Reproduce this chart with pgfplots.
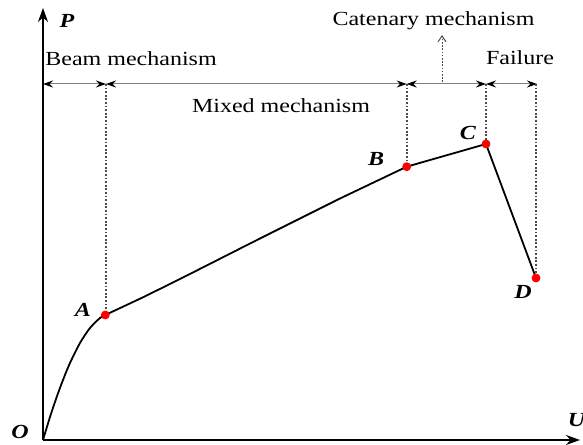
\documentclass[border=0pt]{standalone}
\usepackage{pgfplots}
\pgfplotsset{compat=1.18}
\usepackage{fontspec}
\setmainfont{Liberation Serif}[FakeStretch=1.2]
\usetikzlibrary{arrows.meta}
\begin{document}
\begin{tikzpicture}
\fontsize{10}{12}\selectfont
\begin{axis}[
  width=291.5pt, height=222.5pt, scale only axis,
  xmin=-43, xmax=540, ymin=-5, ymax=440,
  hide axis, clip=false,
  every node/.style={font=\fontsize{10}{12}\selectfont},
]
% axes
\addplot[black, line width=0.8pt, -{Stealth[length=7pt,width=5pt]}] coordinates {(0,0) (0,432)};
\addplot[black, line width=0.8pt, -{Stealth[length=7pt,width=5pt]}] coordinates {(0,0) (537,0)};
% phase arrows
\addplot[gray, line width=0.5pt, {Stealth[black,length=5pt,width=3.5pt]}-{Stealth[black,length=5pt,width=3.5pt]}] coordinates {(0,356) (63,356)};
\addplot[gray, line width=0.5pt, {Stealth[black,length=5pt,width=3.5pt]}-{Stealth[black,length=5pt,width=3.5pt]}] coordinates {(63,356) (363.7,356)};
\addplot[gray, line width=0.5pt, {Stealth[black,length=5pt,width=3.5pt]}-{Stealth[black,length=5pt,width=3.5pt]}] coordinates {(363.7,356) (443,356)};
\addplot[gray, line width=0.5pt, {Stealth[black,length=5pt,width=3.5pt]}-{Stealth[black,length=5pt,width=3.5pt]}] coordinates {(443,356) (494,356)};
% dotted verticals
\addplot[black!70, line width=0.8pt, dash pattern=on 0.9pt off 0.9pt] coordinates {(63,356) (63,125)};
\addplot[black!70, line width=0.8pt, dash pattern=on 0.9pt off 0.9pt] coordinates {(363.7,356) (363.7,273.3)};
\addplot[black!70, line width=0.8pt, dash pattern=on 0.9pt off 0.9pt] coordinates {(443,356) (443,296)};
\addplot[black!70, line width=0.8pt, dash pattern=on 0.9pt off 0.9pt] coordinates {(493,356) (493,162)};
% catenary pointer
\addplot[black!70, line width=0.5pt, dash pattern=on 0.8pt off 0.8pt, -{Straight Barb[length=3pt,width=4pt,line width=0.5pt]}] coordinates {(399,358) (399,405)};
% curve
\addplot[black, line width=0.9pt, smooth] coordinates {(0,0) (7,23) (13.7,43) (20,60) (27,77) (37,97) (47,112) (57,122) (62.3,125)};
\addplot[black, line width=0.9pt] coordinates {(62.3,125) (100,142.7) (137,161) (217,201.5) (297,241.5) (363.7,273.3) (443,296) (493,162)};
% points
\addplot[only marks, mark=*, mark size=2pt, red] coordinates {(62.3,125) (363.7,273.3) (443,296) (493,162)};
% labels
\node at (axis cs:24,419) {\textbf{\textit{P}}};
\node at (axis cs:534,20) {\textbf{\textit{U}}};
\node at (axis cs:-23,8) {\textbf{\textit{O}}};
\node at (axis cs:40,130) {\textbf{\textit{A}}};
\node at (axis cs:333,281) {\textbf{\textit{B}}};
\node at (axis cs:425,307) {\textbf{\textit{C}}};
\node at (axis cs:480,148) {\textbf{\textit{D}}};
\node[anchor=base west, inner sep=0pt] at (axis cs:2,374.3) {Beam mechanism};
\node[anchor=base, inner sep=0pt] at (axis cs:238,327.5) {Mixed mechanism};
\node[anchor=base, inner sep=0pt] at (axis cs:390.5,414) {Catenary mechanism};
\node[anchor=base, inner sep=0pt] at (axis cs:477,375) {Failure};
\end{axis}
\pgfresetboundingbox
\path (current axis.south west) rectangle (current axis.north east);
\end{tikzpicture}
\end{document}
